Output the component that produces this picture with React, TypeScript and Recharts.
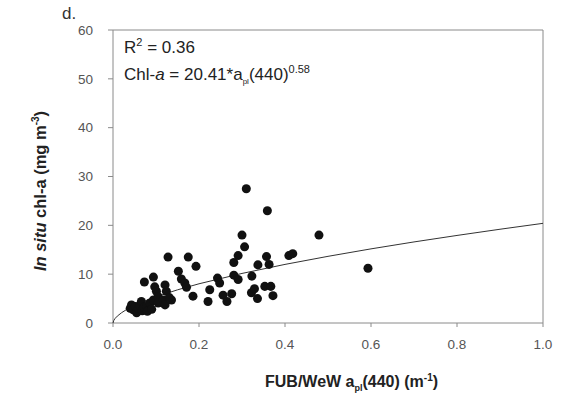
import React from 'react';
import { ScatterChart, Scatter, XAxis, YAxis, ReferenceLine } from 'recharts';

// FUB/WeW aph(440) vs in situ chl-a
const apl440 = [
  0.040, 0.043, 0.047, 0.052, 0.055, 0.059, 0.063, 0.066, 0.068, 0.072, 0.078, 0.080, 0.086, 0.090,
  0.073, 0.094, 0.097, 0.101, 0.094, 0.105, 0.105, 0.117, 0.121, 0.121, 0.124, 0.136, 0.128, 0.131,
  0.152, 0.159, 0.167, 0.171, 0.175, 0.186, 0.193, 0.225, 0.221, 0.243, 0.248, 0.256, 0.265, 0.276,
  0.281, 0.281, 0.291, 0.291, 0.306, 0.300, 0.310, 0.322, 0.323, 0.329, 0.336, 0.337, 0.353, 0.357,
  0.359, 0.363, 0.367, 0.372, 0.409, 0.418, 0.479, 0.593,
];
const chla = [
  3.0, 3.7, 2.7, 3.4, 2.1, 3.0, 3.6, 4.4, 2.5, 3.2, 3.4, 2.4, 4.1, 2.8,
  8.4, 9.4, 7.4, 6.5, 4.7, 5.4, 4.1, 4.7, 3.7, 7.8, 6.5, 4.7, 13.5, 5.2,
  10.6, 9.0, 8.2, 7.3, 13.5, 5.5, 11.6, 6.8, 4.4, 9.2, 8.2, 5.7, 4.4, 6.0,
  9.8, 12.4, 8.9, 13.8, 15.6, 18.0, 27.5, 6.2, 9.6, 7.0, 5.0, 11.9, 7.5, 13.6,
  23.0, 12.0, 7.5, 5.6, 13.8, 14.2, 18.0, 11.2,
];

// power fit Chl-a = 20.41*apl(440)^0.58, sampled
const fitX = [0, 0.002, 0.005, 0.01, 0.02, 0.03, 0.05, 0.07, 0.1, 0.15, 0.2, 0.3, 0.4, 0.5, 0.6, 0.7, 0.8, 0.9, 1.0];
const fitY = [0, 0.55, 0.94, 1.41, 2.11, 2.67, 3.59, 4.37, 5.37, 6.79, 8.03, 10.15, 12.0, 13.65, 15.18, 16.6, 17.93, 19.2, 20.41];

const xTicks = [0, 0.2, 0.4, 0.6, 0.8, 1.0];
const yTicks = [0, 10, 20, 30, 40, 50, 60];

const points = apl440.map((x, i) => ({ x, y: chla[i] }));
const fit = fitX.map((x, i) => ({ x, y: fitY[i] }));

const axisColor = '#8a8a8a';
const tickStyle = { fill: '#555', fontSize: 13.5 };

export default function App() {
  return (
    <div style={{ position: 'absolute', left: 0, top: 0, width: 564, height: 397, background: '#fff', fontFamily: '"Liberation Sans", Arial, sans-serif' }}>
      <ScatterChart width={564} height={397} margin={{ top: 30, right: 21, bottom: 0, left: 0 }}>
        <XAxis
          type="number"
          dataKey="x"
          domain={[0, 1]}
          ticks={xTicks}
          tickFormatter={(v: number) => v.toFixed(1)}
          height={74}
          tickSize={4}
          tickMargin={12}
          stroke={axisColor}
          tick={tickStyle}
        />
        <YAxis
          type="number"
          dataKey="y"
          domain={[0, 60]}
          ticks={yTicks}
          width={113}
          tickSize={5}
          tickMargin={15}
          stroke={axisColor}
          tick={tickStyle}
        />
        <ReferenceLine y={60} stroke={axisColor} />
        <ReferenceLine x={1} stroke={axisColor} />
        <Scatter
          data={fit}
          line={{ stroke: '#333', strokeWidth: 1 }}
          shape={() => <g />}
          isAnimationActive={false}
        />
        <Scatter data={points} fill="#111" isAnimationActive={false} />
      </ScatterChart>

      <div style={{ position: 'absolute', left: 62, top: 4, fontSize: 17, color: '#333' }}>d.</div>

      <div style={{ position: 'absolute', left: 124, top: 34, fontSize: 17, color: '#222', lineHeight: '27px', whiteSpace: 'nowrap' }}>
        <div>R<sup style={{ fontSize: 11, lineHeight: 0 }}>2</sup> = 0.36</div>
        <div>
          Chl-<i>a</i> = 20.41*a<sub style={{ fontSize: 8, lineHeight: 0 }}>pl</sub>(440)<sup style={{ fontSize: 11, lineHeight: 0 }}>0.58</sup>
        </div>
      </div>

      <div style={{ position: 'absolute', left: 265, top: 373, fontSize: 16, fontWeight: 'bold', color: '#222', whiteSpace: 'nowrap' }}>
        FUB/WeW a<sub style={{ fontSize: 9, lineHeight: 0 }}>pl</sub>(440) (m<sup style={{ fontSize: 10, lineHeight: 0 }}>-1</sup>)
      </div>

      <div
        style={{
          position: 'absolute',
          left: 40,
          top: 191,
          transform: 'translate(-50%, -50%) rotate(-90deg)',
          fontSize: 16.5,
          fontWeight: 'bold',
          color: '#222',
          whiteSpace: 'nowrap',
        }}
      >
        <i>In situ</i> chl-a (mg m<sup style={{ fontSize: 10, lineHeight: 0 }}>-3</sup>)
      </div>
    </div>
  );
}
